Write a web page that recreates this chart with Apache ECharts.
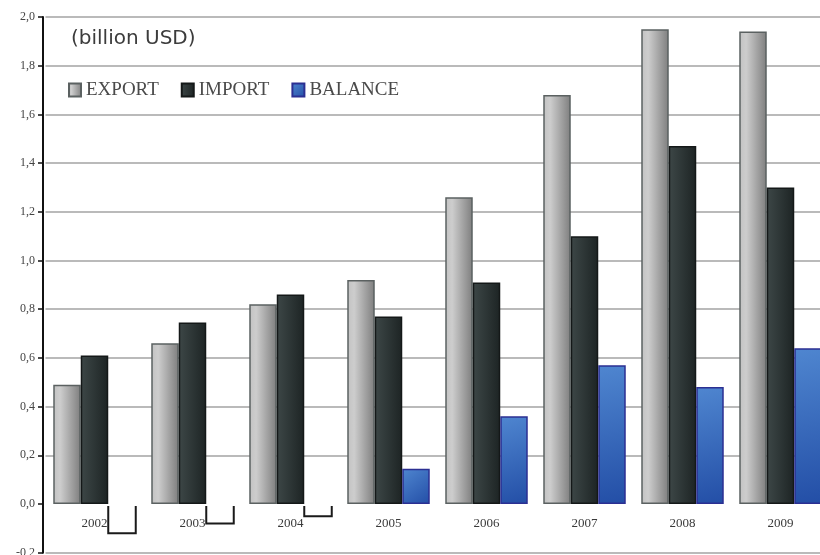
<!DOCTYPE html>
<html>
<head>
<meta charset="utf-8">
<script src="https://cdn.jsdelivr.net/npm/echarts@6/dist/echarts.min.js"></script>
<style>
html,body{margin:0;padding:0;background:#fff;}
#c{width:820px;height:555px;}
</style>
</head>
<body>
<div id="c"></div>
<script>
const years = ['2002','2003','2004','2005','2006','2007','2008','2009'];
const exportVals = [0.49, 0.66, 0.82, 0.92, 1.26, 1.68, 1.95, 1.94];
const importVals = [0.61, 0.745, 0.86, 0.77, 0.91, 1.10, 1.47, 1.30];
const balanceVals = [-0.12, -0.08, -0.05, 0.145, 0.36, 0.57, 0.48, 0.64];
const yTicks = {min: -0.2, max: 2.0, step: 0.2};
const unitLabel = '(billion USD)';

const chart = echarts.init(document.getElementById('c'), null, {renderer: 'canvas'});
const G = echarts.graphic.LinearGradient;
const BW = 27.5;
const GRID = {left: 45.5, top: 17, width: 784, height: 535.7};
// place the category axis on the zero line of the value axis
const zeroOffset = -GRID.height * (0 - yTicks.min) / (yTicks.max - yTicks.min);

const exportColor = new G(0, 0, 1, 0, [
  {offset: 0, color: '#c2c2c2'}, {offset: 0.25, color: '#cdcdcd'}, {offset: 1, color: '#7e7e7e'}]);
const importColor = new G(0, 0, 1, 0, [
  {offset: 0, color: '#3d4747'}, {offset: 1, color: '#1d2424'}]);
const balanceColor = new G(0, 0, 1, 1, [
  {offset: 0, color: '#4f86d0'}, {offset: 1, color: '#234ea6'}]);

const gridColors = [];
for (let v = yTicks.min; v <= yTicks.max + 1e-9; v += yTicks.step) {
  gridColors.push(Math.abs(v) < 1e-9 ? 'rgba(0,0,0,0)' : '#a3a3a3');
}

chart.setOption({
  animation: false,
  backgroundColor: '#fff',
  grid: Object.assign({containLabel: false, outerBoundsMode: 'none'}, GRID),
  graphic: [{
    type: 'text', left: 71, top: 29,
    style: {text: unitLabel, font: '20px "DejaVu Sans", sans-serif', fill: '#3c3c3c'}
  }],
  legend: {
    left: 68, top: 80.5, padding: 0, itemWidth: 12, itemHeight: 13, itemGap: 22,
    icon: 'rect',
    textStyle: {fontFamily: '"Liberation Serif", serif', fontSize: 19, color: '#4a4a4a', padding: [2, 0, 0, 0]},
    data: ['EXPORT', 'IMPORT', 'BALANCE']
  },
  xAxis: {
    type: 'category', data: years, boundaryGap: true,
    position: 'bottom', offset: zeroOffset,
    axisLine: {show: false, onZero: false},
    axisTick: {show: false},
    axisLabel: {margin: 13, fontFamily: '"Liberation Serif", serif', fontSize: 13, color: '#3a3a3a'},
    splitLine: {show: false}
  },
  yAxis: {
    type: 'value', min: yTicks.min, max: yTicks.max, interval: yTicks.step,
    offset: 2.5,
    axisLine: {show: true, lineStyle: {color: '#111', width: 2}},
    axisTick: {show: true, length: 5, lineStyle: {color: '#111', width: 1.5}},
    axisLabel: {
      margin: 8, fontFamily: '"Liberation Serif", serif', fontSize: 12, color: '#444',
      formatter: v => v.toFixed(1).replace('.', ',')
    },
    splitLine: {show: true, lineStyle: {width: 1.5, color: gridColors}}
  },
  series: [
    {
      name: 'EXPORT', type: 'bar', barWidth: BW, barGap: '0%',
      itemStyle: {color: exportColor, borderColor: '#5b6161', borderWidth: 1.5},
      data: exportVals
    },
    {
      name: 'IMPORT', type: 'bar', barWidth: BW, barGap: '0%',
      itemStyle: {color: importColor, borderColor: '#141818', borderWidth: 1.5},
      data: importVals
    },
    {
      name: 'BALANCE', type: 'bar', barWidth: BW, barGap: '0%',
      itemStyle: {color: balanceColor, borderColor: '#2b2f92', borderWidth: 1.5},
      data: balanceVals.map(v => v < 0
        ? {value: v, itemStyle: {color: 'rgba(0,0,0,0)', borderWidth: 0}}
        : v)
    },
    {
      name: 'neg', type: 'custom', silent: true, z: 3,
      data: balanceVals.map((v, i) => [i, v]).filter(d => d[1] < 0),
      renderItem: function (params, api) {
        const i = api.value(0), v = api.value(1);
        const top = api.coord([i, 0]);
        const bot = api.coord([i, v]);
        const x0 = top[0] + BW * 0.5, x1 = top[0] + BW * 1.5;
        const y0 = top[1] + 2, y1 = bot[1];
        return {
          type: 'polyline',
          shape: {points: [[x0, y0], [x0, y1], [x1, y1], [x1, y0]]},
          style: {stroke: '#1a1a1a', lineWidth: 2, fill: null}
        };
      }
    }
  ]
});
</script>
</body>
</html>
